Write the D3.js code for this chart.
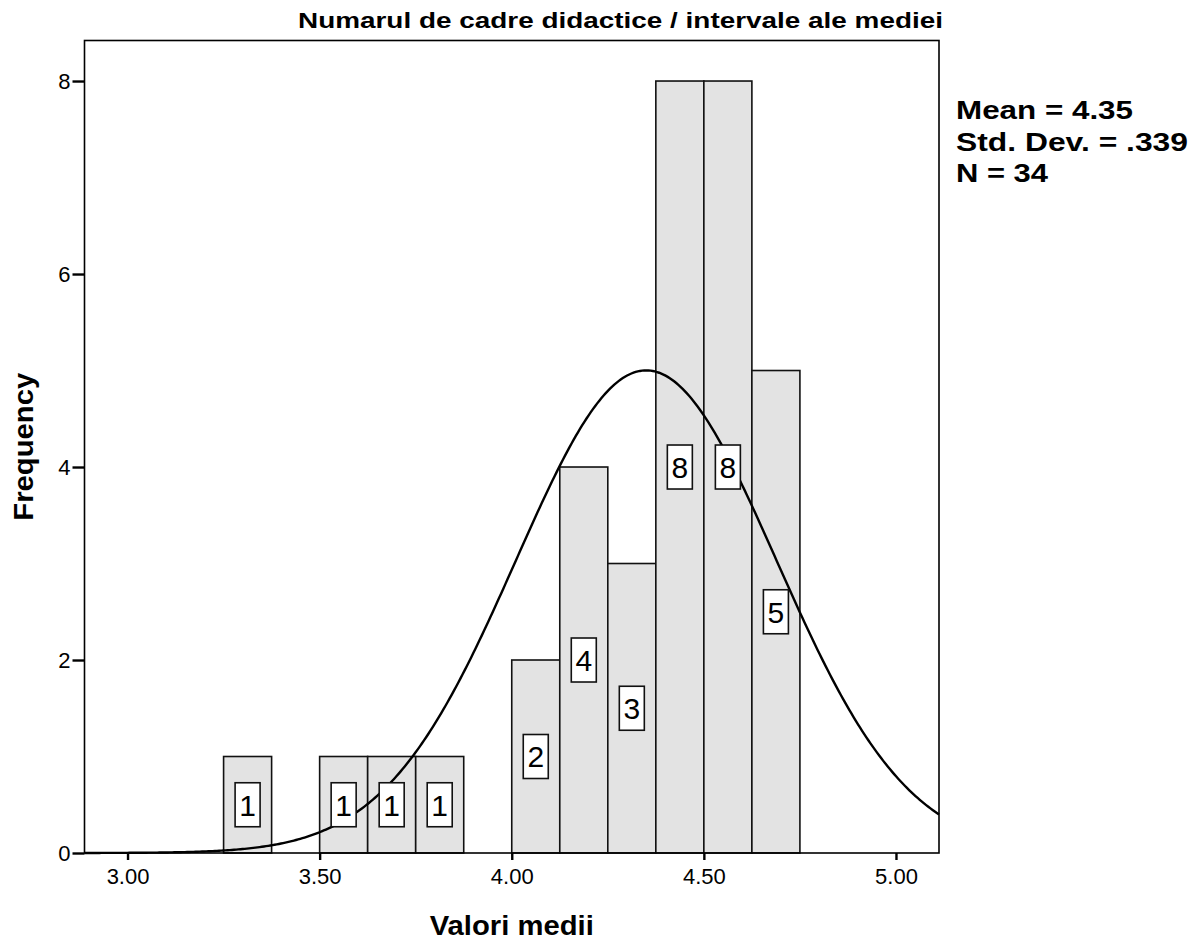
<!DOCTYPE html>
<html>
<head>
<meta charset="utf-8">
<script src="https://cdn.jsdelivr.net/npm/d3@7"></script>
<style>
  html, body { margin: 0; padding: 0; background: #fff; }
  svg { display: block; font-family: "Liberation Sans", Arial, sans-serif; }
</style>
</head>
<body>
<svg id="chart" width="1193" height="940"></svg>
<script>
// ---- data ----
const binStarts = [3.25, 3.50, 3.625, 3.75, 4.00, 4.125, 4.25, 4.375, 4.50, 4.625];
const binWidth = 0.125;
const counts = [1, 1, 1, 1, 2, 4, 3, 8, 8, 5];
const xTicks = [3.00, 3.50, 4.00, 4.50, 5.00];
const yTicks = [0, 2, 4, 6, 8];
const statMean = 4.35;
const statSD = 0.339;
const statN = 34;
const statLines = ["Mean = 4.35", "Std. Dev. = .339", "N = 34"];
const titleText = "Numarul de cadre didactice / intervale ale mediei";
const xLabel = "Valori medii";
const yLabel = "Frequency";

const svg = d3.select("#chart");
const L = 84.5, R = 939, T = 40.5, B = 853;

const x = d3.scaleLinear().domain([2.888, 5.112]).range([L, R]);
const y = d3.scaleLinear().domain([0, 8.42]).range([B, T]);

const bins = binStarts.map((s, i) => ({ x0: s, x1: s + binWidth, n: counts[i] }));

// bars
svg.append("g").selectAll("rect").data(bins).join("rect")
  .attr("x", d => x(d.x0))
  .attr("y", d => y(d.n))
  .attr("width", d => x(d.x1) - x(d.x0))
  .attr("height", d => y(0) - y(d.n))
  .attr("fill", "#e3e3e3")
  .attr("stroke", "#111")
  .attr("stroke-width", 1.6);

// normal curve fitted from the stated mean / sd / N
const dens = v => statN * binWidth / (statSD * Math.sqrt(2 * Math.PI)) *
  Math.exp(-0.5 * Math.pow((v - statMean) / statSD, 2));
const xs = d3.range(0, 401).map(i => x.domain()[0] + i * (x.domain()[1] - x.domain()[0]) / 400);
svg.append("path")
  .datum(xs)
  .attr("fill", "none")
  .attr("stroke", "#000")
  .attr("stroke-width", 2.4)
  .attr("d", d3.line().x(v => x(v)).y(v => y(dens(v))));

// count labels
const lab = svg.append("g").selectAll("g").data(bins).join("g")
  .attr("transform", d => `translate(${x(d.x0 + binWidth / 2)},${y(d.n / 2)})`);
lab.append("rect")
  .attr("x", -12.5).attr("y", -22).attr("width", 25).attr("height", 44)
  .attr("fill", "#fff").attr("stroke", "#111").attr("stroke-width", 1.6);
lab.append("text")
  .attr("text-anchor", "middle").attr("dy", "0.36em")
  .attr("font-size", 30)
  .text(d => d.n);

// frame
svg.append("rect")
  .attr("x", L).attr("y", T).attr("width", R - L).attr("height", B - T)
  .attr("fill", "none").attr("stroke", "#000").attr("stroke-width", 1.6);

// x axis
const xa = svg.append("g").attr("transform", `translate(0,${B})`)
  .call(d3.axisBottom(x).tickValues(xTicks).tickFormat(d3.format(".2f")).tickSize(7).tickPadding(8));
xa.select(".domain").remove();
xa.selectAll("line").attr("stroke", "#000").attr("stroke-width", 2.4);
xa.selectAll("text").attr("font-size", 22).attr("fill", "#000")
  .attr("font-family", "Liberation Sans, Arial, sans-serif");

// y axis
const ya = svg.append("g").attr("transform", `translate(${L},0)`)
  .call(d3.axisLeft(y).tickValues(yTicks).tickFormat(d3.format("d")).tickSize(12).tickPadding(2));
ya.select(".domain").remove();
ya.selectAll("line").attr("stroke", "#000").attr("stroke-width", 2.4);
ya.selectAll("text").attr("font-size", 22).attr("fill", "#000")
  .attr("font-family", "Liberation Sans, Arial, sans-serif");

// title
svg.append("text")
  .attr("x", 298).attr("y", 28)
  .attr("font-size", 22).attr("font-weight", "bold")
  .attr("textLength", 645).attr("lengthAdjust", "spacingAndGlyphs")
  .text(titleText);

// axis titles
svg.append("text")
  .attr("x", (L + R) / 2 - 82).attr("y", 935)
  .attr("font-size", 27).attr("font-weight", "bold")
  .attr("textLength", 164).attr("lengthAdjust", "spacingAndGlyphs")
  .text(xLabel);

svg.append("text")
  .attr("transform", `translate(33,${(T + B) / 2 + 74}) rotate(-90)`)
  .attr("font-size", 27).attr("font-weight", "bold")
  .attr("textLength", 148).attr("lengthAdjust", "spacingAndGlyphs")
  .text(yLabel);

// stats
const statW = [177, 232, 92];
const statY = [119, 150.5, 182];
svg.append("g").selectAll("text").data(statLines).join("text")
  .attr("x", 956).attr("y", (d, i) => statY[i])
  .attr("font-size", 26).attr("font-weight", "bold")
  .attr("textLength", (d, i) => statW[i]).attr("lengthAdjust", "spacingAndGlyphs")
  .text(d => d);
</script>
</body>
</html>
